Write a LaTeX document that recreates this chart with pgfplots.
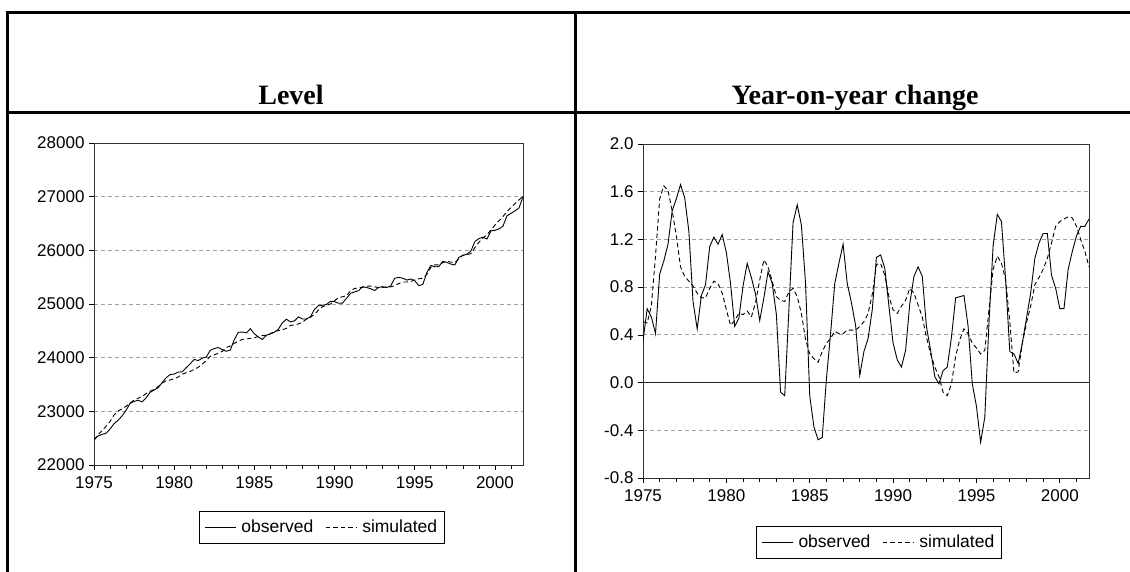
\documentclass[border=0pt]{standalone}
\usepackage{fontspec}
\setmainfont{Liberation Sans}
\newfontfamily\titlefont{Liberation Serif}
\usepackage{pgfplots}
\usepackage{pgfplotstable}
\pgfplotsset{compat=1.18}

\pgfplotstableread{
t obs sim
1975.00 22466 22466
1975.25 22540 22560
1975.50 22570 22640
1975.75 22590 22720
1976.00 22670 22812
1976.25 22770 22932
1976.50 22832 23004
1976.75 22915 23047
1977.00 23019 23093
1977.25 23148 23154
1977.50 23186 23209
1977.75 23206 23243
1978.00 23176 23280
1978.25 23252 23328
1978.50 23355 23374
1978.75 23396 23408
1979.00 23440 23464
1979.25 23536 23526
1979.50 23626 23568
1979.75 23686 23584
1980.00 23695 23607
1980.25 23731 23639
1980.50 23737 23691
1980.75 23814 23721
1981.00 23887 23742
1981.25 23968 23781
1981.50 23946 23821
1981.75 23990 23880
1982.00 24011 23946
1982.25 24138 24026
1982.50 24169 24052
1982.75 24189 24083
1983.00 24148 24118
1983.25 24119 24192
1983.50 24142 24216
1983.75 24337 24266
1984.00 24472 24309
1984.25 24478 24340
1984.50 24461 24350
1984.75 24539 24358
1985.00 24445 24367
1985.25 24384 24400
1985.50 24339 24410
1985.75 24418 24420
1986.00 24442 24447
1986.25 24474 24490
1986.50 24531 24505
1986.75 24652 24520
1987.00 24716 24547
1987.25 24667 24600
1987.50 24685 24612
1987.75 24760 24628
1988.00 24721 24662
1988.25 24721 24720
1988.50 24765 24753
1988.75 24901 24806
1989.00 24970 24890
1989.25 24976 24950
1989.50 24993 24975
1989.75 25051 25000
1990.00 25043 25061
1990.25 25014 25120
1990.50 25016 25135
1990.75 25109 25155
1991.00 25199 25250
1991.25 25226 25290
1991.50 25249 25300
1991.75 25322 25310
1992.00 25308 25330
1992.25 25284 25335
1992.50 25252 25320
1992.75 25309 25305
1993.00 25323 25310
1993.25 25307 25315
1993.50 25338 25320
1993.75 25479 25340
1994.00 25496 25380
1994.25 25482 25410
1994.50 25446 25410
1994.75 25466 25420
1995.00 25434 25450
1995.25 25344 25470
1995.50 25362 25480
1995.75 25584 25550
1996.00 25718 25680
1996.25 25693 25730
1996.50 25696 25730
1996.75 25795 25770
1997.00 25775 25800
1997.25 25744 25780
1997.50 25727 25770
1997.75 25870 25840
1998.00 25905 25910
1998.25 25928 25920
1998.50 25986 25940
1998.75 26164 26050
1999.00 26220 26150
1999.25 26244 26230
1999.50 26211 26290
1999.75 26362 26380
2000.00 26373 26470
2000.25 26398 26550
2000.50 26450 26630
2000.75 26644 26720
2001.00 26688 26800
2001.25 26736 26870
2001.50 26789 26940
2001.75 27001 27003
}\levtab

\pgfplotstableread{
t obs sim
1975.00 0.35 0.51
1975.25 0.62 0.50
1975.50 0.55 0.64
1975.75 0.41 1.06
1976.00 0.91 1.54
1976.25 1.02 1.65
1976.50 1.16 1.61
1976.75 1.44 1.44
1977.00 1.54 1.23
1977.25 1.66 0.97
1977.50 1.55 0.89
1977.75 1.27 0.85
1978.00 0.68 0.81
1978.25 0.45 0.75
1978.50 0.73 0.71
1978.75 0.82 0.71
1979.00 1.14 0.79
1979.25 1.22 0.85
1979.50 1.16 0.83
1979.75 1.24 0.75
1980.00 1.09 0.61
1980.25 0.83 0.48
1980.50 0.47 0.52
1980.75 0.54 0.58
1981.00 0.81 0.57
1981.25 1.00 0.60
1981.50 0.88 0.55
1981.75 0.74 0.67
1982.00 0.52 0.86
1982.25 0.71 1.03
1982.50 0.93 0.97
1982.75 0.83 0.85
1983.00 0.57 0.72
1983.25 -0.08 0.69
1983.50 -0.11 0.68
1983.75 0.61 0.76
1984.00 1.34 0.79
1984.25 1.49 0.72
1984.50 1.32 0.58
1984.75 0.83 0.36
1985.00 -0.11 0.24
1985.25 -0.37 0.20
1985.50 -0.48 0.17
1985.75 -0.46 0.26
1986.00 0.03 0.33
1986.25 0.41 0.37
1986.50 0.83 0.43
1986.75 1.00 0.41
1987.00 1.16 0.41
1987.25 0.83 0.44
1987.50 0.67 0.44
1987.75 0.48 0.44
1988.00 0.06 0.47
1988.25 0.26 0.51
1988.50 0.37 0.58
1988.75 0.61 0.74
1989.00 1.05 0.99
1989.25 1.07 1.00
1989.50 0.96 0.90
1989.75 0.64 0.72
1990.00 0.33 0.61
1990.25 0.19 0.58
1990.50 0.13 0.64
1990.75 0.27 0.69
1991.00 0.66 0.79
1991.25 0.89 0.75
1991.50 0.97 0.65
1991.75 0.89 0.55
1992.00 0.47 0.38
1992.25 0.27 0.24
1992.50 0.05 0.13
1992.75 -0.01 0.05
1993.00 0.10 -0.08
1993.25 0.13 -0.11
1993.50 0.38 -0.01
1993.75 0.71 0.22
1994.00 0.72 0.36
1994.25 0.73 0.45
1994.50 0.47 0.41
1994.75 -0.01 0.33
1995.00 -0.20 0.29
1995.25 -0.50 0.24
1995.50 -0.29 0.27
1995.75 0.50 0.61
1996.00 1.15 0.95
1996.25 1.41 1.06
1996.50 1.35 1.00
1996.75 0.86 0.86
1997.00 0.26 0.51
1997.25 0.24 0.08
1997.50 0.16 0.09
1997.75 0.33 0.33
1998.00 0.54 0.50
1998.25 0.75 0.64
1998.50 1.04 0.82
1998.75 1.17 0.88
1999.00 1.25 0.95
1999.25 1.25 1.04
1999.50 0.90 1.17
1999.75 0.79 1.31
2000.00 0.62 1.35
2000.25 0.62 1.37
2000.50 0.95 1.39
2000.75 1.10 1.38
2001.00 1.23 1.31
2001.25 1.31 1.20
2001.50 1.31 1.10
2001.75 1.37 0.97
}\yoytab

\pgfplotsset{
  panel/.style={
    scale only axis,
    anchor=south west,
    scaled ticks=false,
    xmin=1975, xmax=2001.75,
    xtick={1975,1980,1985,1990,1995,2000},
    xticklabels={1975,1980,1985,1990,1995,2000},
    minor xtick={1976,1977,1978,1979,1981,1982,1983,1984,1986,1987,1988,1989,1991,1992,1993,1994,1996,1997,1998,1999,2001},
    tick align=outside,
    tick pos=left,
    major tick length=5pt,
    minor tick length=4pt,
    every tick/.style={black, line width=0.7pt},
    axis line style={black!80, line width=0.9pt},
    ymajorgrids,
    major grid style={gray!75, dash pattern=on 4pt off 3pt, line width=0.8pt},
    tick label style={font=\fontsize{17}{17}\selectfont},
    xticklabel style={yshift=-3pt},
    yticklabel style={xshift=-1pt},
    legend columns=2,
    legend cell align=left,
    legend image code/.code={\draw[#1] (0pt,0pt) -- (31pt,0pt);},
    legend style={draw=black, line width=0.9pt, inner xsep=5pt, inner ysep=7pt,
      font=\fontsize{17.5}{17.5}\selectfont,
      /tikz/every odd column/.append style={column sep=3pt},
      /tikz/every even column/.append style={column sep=10pt}},
  },
  obsline/.style={black, line width=0.9pt, solid},
  simline/.style={black, line width=0.9pt, dash pattern=on 4.5pt off 3pt},
}

\begin{document}
\begin{tikzpicture}[x=1pt,y=1pt]
\useasboundingbox (0,0) rectangle (1130,572);
% table frame
\draw[line width=3pt] (5.5,559) -- (1140,559);
\draw[line width=3pt] (5.5,459) -- (1140,459);
\draw[line width=3pt] (7,560.5) -- (7,-10);
\draw[line width=3pt] (575,560.5) -- (575,-10);
% titles
\node[anchor=base, inner sep=0pt] at (291,467) {\titlefont\bfseries\fontsize{28}{30}\selectfont Level};
\node[anchor=base, inner sep=0pt] at (855,467) {\titlefont\bfseries\fontsize{28}{30}\selectfont Year-on-year change};

\begin{axis}[panel,
  at={(94pt,107pt)}, width=429pt, height=322pt,
  ymin=22000, ymax=28000,
  ytick={22000,23000,24000,25000,26000,27000,28000},
  yticklabels={22000,23000,24000,25000,26000,27000,28000},
  legend style={at={(0.531,-0.193)}, anchor=center},
]
\addplot[obsline] table[x=t, y=obs] {\levtab};
\addlegendentry{observed}
\addplot[simline] table[x=t, y=sim] {\levtab};
\addlegendentry{simulated}
\end{axis}

\begin{axis}[panel,
  at={(643pt,94pt)}, width=446pt, height=334pt,
  ymin=-0.8, ymax=2.0,
  ytick={-0.8,-0.4,0,0.4,0.8,1.2,1.6,2.0},
  yticklabels={-0.8,-0.4,0.0,0.4,0.8,1.2,1.6,2.0},
  legend style={at={(0.529,-0.192)}, anchor=center},
]
\addplot[black!85, line width=1pt, forget plot] coordinates {(1975,0) (2001.75,0)};
\addplot[obsline] table[x=t, y=obs] {\yoytab};
\addlegendentry{observed}
\addplot[simline] table[x=t, y=sim] {\yoytab};
\addlegendentry{simulated}
\end{axis}
\end{tikzpicture}
\end{document}
